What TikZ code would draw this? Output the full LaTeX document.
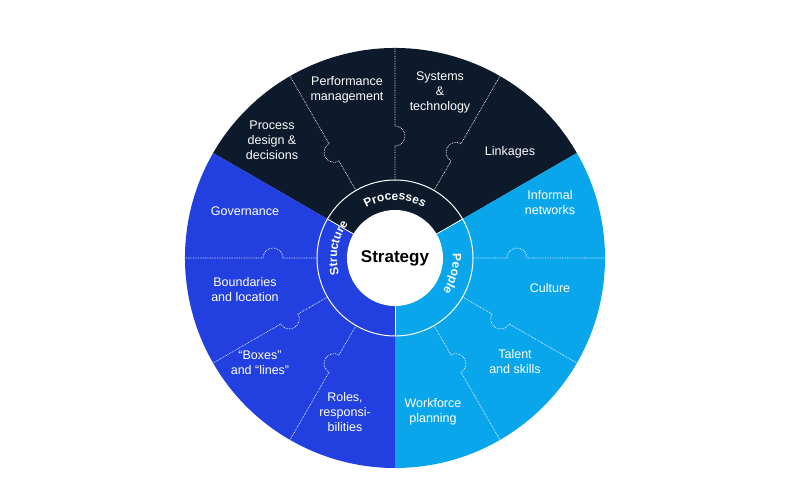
\documentclass[tikz,border=0pt]{standalone}
\usepackage{fontspec}
\setmainfont{Liberation Sans}
\usetikzlibrary{decorations.text}
\definecolor{navy}{HTML}{0C1A2B}
\definecolor{midblue}{HTML}{2240E0}
\definecolor{lightblue}{HTML}{0AA6EC}
\tikzset{
  lbl/.style={text=white,font=\fontsize{12.5}{15}\selectfont,align=center},
  div/.style={white,densely dotted,line width=0.7pt},
  ringtext/.style={decorate,decoration={text along path,text align=center,
     text={|\fontsize{12}{14}\selectfont\bfseries\color{white}|#1}}}
}
\begin{document}
\begin{tikzpicture}[x=1pt,y=1pt]
\useasboundingbox (-395,-242) rectangle (405,258);
\fill[navy] (0,0) -- (30:210) arc[start angle=30,end angle=150,radius=210] -- cycle;
\fill[midblue] (0,0) -- (150:210) arc[start angle=150,end angle=270,radius=210] -- cycle;
\fill[lightblue] (0,0) -- (-90:210) arc[start angle=-90,end angle=30,radius=210] -- cycle;
\foreach \a/\s in {60/1,90/-1,120/1,0/1,-30/-1,-60/1,180/-1,210/1,240/-1}{
  \begin{scope}[rotate=\a]
  \draw[div] (78,0) -- (112,0) arc[start angle=180,end angle=180-\s*180,radius=10] -- (210,0);
  \end{scope}}
\draw[white,line width=1pt] (0,0) circle[radius=78];
\foreach \a in {30,150,270} \draw[white,line width=0.8pt] (\a:48) -- (\a:78);
\node[circle,fill=white,minimum size=96pt,inner sep=0pt,font=\fontsize{17}{20}\selectfont\bfseries] (core) at (0,0) {Strategy};
\path[ringtext=Processes] (130:58) arc[start angle=130,end angle=50,radius=58];
\path[ringtext=People] (25:58) arc[start angle=25,end angle=-55,radius=58];
\path[ringtext=Structure] (215:58) arc[start angle=215,end angle=125,radius=58];
\node[lbl] (pm) at (-48,168) {Performance\\management};
\node[lbl] (st) at (45,166) {Systems\\\&\\technology};
\node[lbl] (pd) at (-123,118) {Process\\design \&\\decisions};
\node[lbl] (li) at (115,106) {Linkages};
\node[lbl] (gv) at (-150,47) {Governance};
\node[lbl] (in) at (155,55) {Informal\\networks};
\node[lbl] (bl) at (-150,-32) {Boundaries\\and location};
\node[lbl] (cu) at (155,-30) {Culture};
\node[lbl] (bx) at (-135,-105) {“Boxes”\\and “lines”};
\node[lbl] (ta) at (120,-104) {Talent\\and skills};
\node[lbl] (ro) at (-50,-154) {Roles,\\responsi-\\bilities};
\node[lbl] (wf) at (38,-154) {Workforce\\planning};
\end{tikzpicture}
\end{document}
